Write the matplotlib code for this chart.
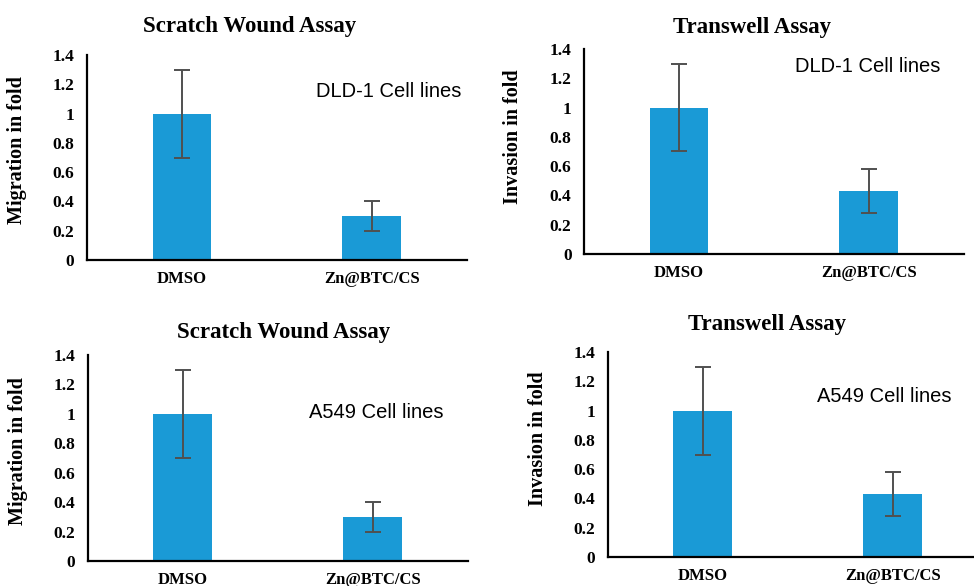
import matplotlib
matplotlib.use("Agg")
import matplotlib.pyplot as plt

groups = ["DMSO", "Zn@BTC/CS"]

scratch_dld1 = [1.0, 0.30]
scratch_dld1_err = [0.30, 0.10]
transwell_dld1 = [1.0, 0.43]
transwell_dld1_err = [0.30, 0.15]
scratch_a549 = [1.0, 0.30]
scratch_a549_err = [0.30, 0.10]
transwell_a549 = [1.0, 0.43]
transwell_a549_err = [0.30, 0.15]

titles = ["Scratch Wound Assay", "Transwell Assay", "Scratch Wound Assay", "Transwell Assay"]
ylabels = ["Migration in fold", "Invasion in fold", "Migration in fold", "Invasion in fold"]
cell_lines = ["DLD-1 Cell lines", "DLD-1 Cell lines", "A549 Cell lines", "A549 Cell lines"]
yticks = [0, 0.2, 0.4, 0.6, 0.8, 1.0, 1.2, 1.4]
ytick_labels = ["0", "0.2", "0.4", "0.6", "0.8", "1", "1.2", "1.4"]

values = [scratch_dld1, transwell_dld1, scratch_a549, transwell_a549]
errors = [scratch_dld1_err, transwell_dld1_err, scratch_a549_err, transwell_a549_err]

# layout (figure fractions / axes fractions)
axes_rects = [
    [0.0893, 0.5563, 0.390, 0.3498],
    [0.5996, 0.5666, 0.390, 0.3498],
    [0.0903, 0.0427, 0.390, 0.3515],
    [0.6242, 0.0495, 0.390, 0.3498],
]
title_pos = [(0.429, 1.141), (0.443, 1.107), (0.516, 1.107), (0.418, 1.132)]
note_pos = [(0.795, 0.824), (0.747, 0.917), (0.758, 0.723), (0.728, 0.785)]
ylabel_pos = [(-0.158, 0.535), (-0.161, 0.571), (-0.158, 0.536), (-0.158, 0.576)]

BAR = "#1a9ad6"
serif = "Liberation Serif"

fig = plt.figure(figsize=(9.74, 5.86), dpi=100)

for i in range(4):
    ax = fig.add_axes(axes_rects[i])
    x = range(len(groups))
    ax.bar(x, values[i], width=0.31, color=BAR, yerr=errors[i],
           error_kw=dict(ecolor="#505050", elinewidth=1.4, capsize=5.5, capthick=1.4))
    ax.set_xlim(-0.5, 1.5)
    ax.set_ylim(0, 1.4)
    ax.set_yticks(yticks)
    ax.set_yticklabels(ytick_labels, fontfamily=serif, fontweight="bold", fontsize=12.5)
    ax.set_xticks(list(x))
    ax.set_xticklabels(groups, fontfamily=serif, fontweight="bold", fontsize=12)
    ax.tick_params(axis="both", length=0)
    ax.tick_params(axis="y", pad=9)
    ax.tick_params(axis="x", pad=8)
    for s in ["top", "right"]:
        ax.spines[s].set_visible(False)
    for s in ["left", "bottom"]:
        ax.spines[s].set_linewidth(1.6)
        ax.spines[s].set_color("black")
    ax.set_ylabel(ylabels[i], fontfamily=serif, fontweight="bold", fontsize=14.5)
    ax.yaxis.set_label_coords(*ylabel_pos[i])
    ax.text(title_pos[i][0], title_pos[i][1], titles[i], transform=ax.transAxes,
            ha="center", va="center", fontfamily=serif, fontweight="bold", fontsize=16.5)
    ax.text(note_pos[i][0], note_pos[i][1], cell_lines[i], transform=ax.transAxes,
            ha="center", va="center", fontfamily="Liberation Sans", fontsize=14.5)

fig.savefig("out.png", dpi=100)
